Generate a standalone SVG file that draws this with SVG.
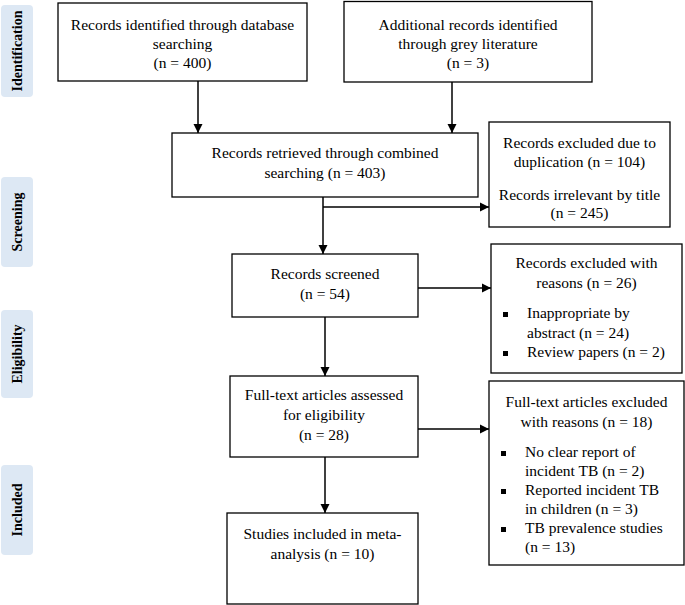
<svg xmlns="http://www.w3.org/2000/svg" width="685" height="605" viewBox="0 0 685 605">
<style>
.box{fill:#fff;stroke:#000;stroke-width:1.3}
.side{fill:#dde8f4;stroke:none}
.t{font-family:"Liberation Serif","Times New Roman",serif;font-size:15.5px;fill:#000}
.c{text-anchor:middle}
.s{font-family:"Liberation Serif","Times New Roman",serif;font-size:14px;font-weight:bold;fill:#000;text-anchor:middle}
.ln{stroke:#000;stroke-width:1.5;fill:none}
.bul{fill:#000}
</style>
<defs>
<marker id="ah" markerWidth="10" markerHeight="10" refX="9" refY="5" orient="auto" markerUnits="userSpaceOnUse">
<path d="M0,0.5 L9,5 L0,9.5 Z" fill="#000"/>
</marker>
</defs>
<rect width="685" height="605" fill="#fff"/>
<g id="phase-identification"><rect class="side" x="1" y="5" width="32" height="92" rx="4"/><text class="s" transform="translate(22,51) rotate(-90)">Identification</text></g>
<g id="phase-screening"><rect class="side" x="1" y="177" width="32" height="90" rx="4"/><text class="s" transform="translate(22,222) rotate(-90)">Screening</text></g>
<g id="phase-eligibility"><rect class="side" x="1" y="310" width="32" height="88" rx="4"/><text class="s" transform="translate(22,354) rotate(-90)">Eligibility</text></g>
<g id="phase-included"><rect class="side" x="1" y="465" width="32" height="90" rx="4"/><text class="s" transform="translate(22,510) rotate(-90)">Included</text></g>

<g id="connectors">
<line class="ln" x1="198" y1="81" x2="198" y2="133" marker-end="url(#ah)"/>
<line class="ln" x1="452" y1="82" x2="452" y2="133" marker-end="url(#ah)"/>
<line class="ln" x1="323" y1="197" x2="323" y2="254" marker-end="url(#ah)"/>
<line class="ln" x1="323" y1="207" x2="489" y2="207" marker-end="url(#ah)"/>
<line class="ln" x1="325" y1="317" x2="325" y2="376" marker-end="url(#ah)"/>
<line class="ln" x1="418" y1="288" x2="491" y2="288" marker-end="url(#ah)"/>
<line class="ln" x1="325" y1="457" x2="325" y2="513" marker-end="url(#ah)"/>
<line class="ln" x1="418" y1="429" x2="489" y2="429" marker-end="url(#ah)"/>
</g>

<g id="db-records"><rect class="box" x="58" y="3" width="249" height="78"/>
<text class="t c" x="182.5" y="30">Records identified through database</text>
<text class="t c" x="182.5" y="49">searching</text>
<text class="t c" x="182.5" y="68">(n = 400)</text></g>

<g id="grey-records"><rect class="box" x="344" y="1.5" width="248" height="80.5"/>
<text class="t c" x="468" y="30">Additional records identified</text>
<text class="t c" x="468" y="49">through grey literature</text>
<text class="t c" x="468" y="68">(n = 3)</text></g>

<g id="combined"><rect class="box" x="172" y="133" width="306" height="64"/>
<text class="t c" x="325" y="158">Records retrieved through combined</text>
<text class="t c" x="325" y="178">searching (n = 403)</text></g>

<g id="excluded-dup"><rect class="box" x="489" y="122" width="181" height="105"/>
<text class="t c" x="579.5" y="148">Records excluded due to</text>
<text class="t c" x="579.5" y="167">duplication (n = 104)</text>
<text class="t c" x="579.5" y="200">Records irrelevant by title</text>
<text class="t c" x="579.5" y="218">(n = 245)</text></g>

<g id="screened"><rect class="box" x="232" y="254" width="186" height="63"/>
<text class="t c" x="325" y="279">Records screened</text>
<text class="t c" x="325" y="299">(n = 54)</text></g>

<g id="excluded-abstract"><rect class="box" x="491" y="244" width="191" height="129"/>
<text class="t c" x="586.5" y="268">Records excluded with</text>
<text class="t c" x="586.5" y="288">reasons (n = 26)</text>
<rect class="bul" x="503" y="312" width="5" height="5"/>
<text class="t" x="527" y="318">Inappropriate by</text>
<text class="t" x="527" y="338">abstract (n = 24)</text>
<rect class="bul" x="503" y="351" width="5" height="5"/>
<text class="t" x="527" y="357">Review papers (n = 2)</text></g>

<g id="fulltext"><rect class="box" x="230" y="376" width="188" height="81"/>
<text class="t c" x="324" y="400">Full-text articles assessed</text>
<text class="t c" x="324" y="420">for eligibility</text>
<text class="t c" x="324" y="440">(n = 28)</text></g>

<g id="excluded-fulltext"><rect class="box" x="489" y="381" width="195" height="184"/>
<text class="t c" x="586.5" y="407">Full-text articles excluded</text>
<text class="t c" x="586.5" y="427">with reasons (n = 18)</text>
<rect class="bul" x="501" y="451" width="5" height="5"/>
<text class="t" x="525" y="457">No clear report of</text>
<text class="t" x="525" y="476">incident TB (n = 2)</text>
<rect class="bul" x="501" y="489" width="5" height="5"/>
<text class="t" x="525" y="495">Reported incident TB</text>
<text class="t" x="525" y="514">in children (n = 3)</text>
<rect class="bul" x="501" y="527" width="5" height="5"/>
<text class="t" x="525" y="533">TB prevalence studies</text>
<text class="t" x="525" y="552">(n = 13)</text></g>

<g id="included"><rect class="box" x="227" y="513" width="191" height="91"/>
<text class="t c" x="322.5" y="539">Studies included in meta-</text>
<text class="t c" x="322.5" y="559">analysis (n = 10)</text></g>
</svg>
